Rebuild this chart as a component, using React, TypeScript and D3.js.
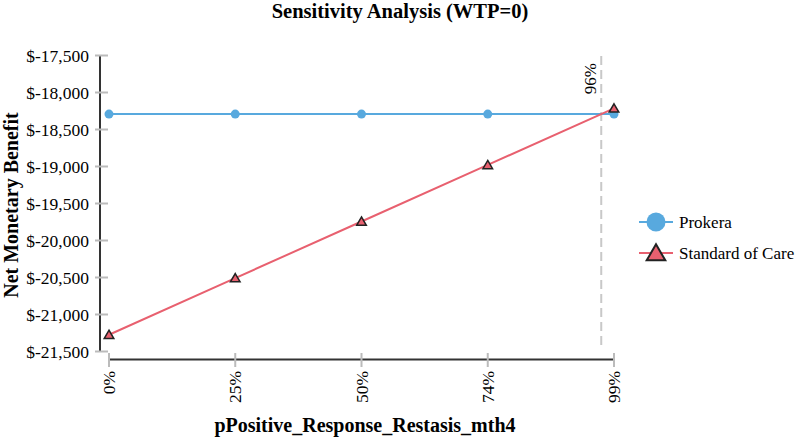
import * as d3 from "d3";

// percent axis values (labels are rounded in the source)
const xValues = [0, 0.2475, 0.495, 0.7425, 0.99];
const xTickLabels = ["0%", "25%", "50%", "74%", "99%"];
const prokera = [-18292, -18292, -18292, -18292, -18292];
const standardOfCare = [-21274, -20508, -19743, -18979, -18214];
const yTicks = [-17500, -18000, -18500, -19000, -19500, -20000, -20500, -21000, -21500];
const threshold = 0.965;
const thresholdLabel = "96%";
const seriesNames = ["Prokera", "Standard of Care"];

const width = 797;
const height = 438;
const font = "Liberation Serif, Times New Roman, Times, DejaVu Serif, serif";
const blue = "#58a9de";
const red = "#e8606f";

const locale = d3.formatLocale({ decimal: ".", thousands: ",", grouping: [3], currency: ["$", ""], minus: "-" });
const fmt = locale.format(",");

export default function App() {
    const x = d3.scaleLinear().domain([0, 0.99]).range([109, 614]);
    const y = d3.scaleLinear().domain([-21500, -17500]).range([351.5, 55.5]);

    const line = d3.line<number>()
        .x((_, i) => x(xValues[i]))
        .y(d => y(d));

    const tri = d3.symbol(d3.symbolTriangle, 40);
    const triBig = d3.symbol(d3.symbolTriangle, 150);

    return (
        <svg width={width} height={height} style={{ position: "absolute", left: 0, top: 0, background: "#fff", fontFamily: font }}>
            {/* title */}
            <text x={400} y={18} textAnchor="middle" fontWeight="bold" fontSize={20.5}>Sensitivity Analysis (WTP=0)</text>

            {/* y axis */}
            <line x1={100} x2={100} y1={55.5} y2={351.5} stroke="#333" strokeWidth={2} />
            {yTicks.map(t => (
                <g key={t}>
                    <line x1={95} x2={108} y1={y(t)} y2={y(t)} stroke="#bbb" strokeWidth={2} />
                    <text x={89} y={y(t)} dy="0.35em" textAnchor="end" fontSize={17.5}>{"$" + fmt(t)}</text>
                </g>
            ))}
            <text transform={`translate(18,205) rotate(-90)`} textAnchor="middle" fontWeight="bold" fontSize={20}>Net Monetary Benefit</text>

            {/* x axis */}
            <line x1={109} x2={614} y1={359.5} y2={359.5} stroke="#333" strokeWidth={2} />
            {xValues.map((v, i) => (
                <g key={v}>
                    <line x1={x(v)} x2={x(v)} y1={353} y2={367} stroke="#bbb" strokeWidth={2} />
                    <text transform={`translate(${x(v) + 6},371) rotate(-90)`} textAnchor="end" fontSize={17.5}>{xTickLabels[i]}</text>
                </g>
            ))}
            <text x={365} y={432} textAnchor="middle" fontWeight="bold" fontSize={20}>pPositive_Response_Restasis_mth4</text>

            {/* threshold */}
            <line x1={x(threshold)} x2={x(threshold)} y1={56} y2={348} stroke="#c8c8c8" strokeWidth={2} strokeDasharray="9,5" />
            <text transform={`translate(${x(threshold) - 5},63) rotate(-90)`} textAnchor="end" fontSize={17}>{thresholdLabel}</text>

            {/* series */}
            <path d={line(prokera) ?? ""} fill="none" stroke={blue} strokeWidth={2} />
            <path d={line(standardOfCare) ?? ""} fill="none" stroke={red} strokeWidth={2} />
            {prokera.map((v, i) => (
                <circle key={"p" + i} cx={x(xValues[i])} cy={y(v)} r={4.5} fill={blue} />
            ))}
            {standardOfCare.map((v, i) => (
                <path key={"s" + i} d={tri() ?? ""} transform={`translate(${x(xValues[i])},${y(v) + 1})`} fill={red} stroke="#222" strokeWidth={1.5} />
            ))}

            {/* legend */}
            <g transform="translate(639,222)">
                <line x1={0} x2={34} y1={0} y2={0} stroke={blue} strokeWidth={2} />
                <circle cx={17} cy={0} r={9.5} fill={blue} />
                <text x={40} y={0} dy="0.35em" fontSize={17}>{seriesNames[0]}</text>
            </g>
            <g transform="translate(639,253)">
                <line x1={0} x2={34} y1={0} y2={0} stroke={red} strokeWidth={2} />
                <path d={triBig() ?? ""} transform="translate(17,2)" fill={red} stroke="#222" strokeWidth={2} />
                <text x={40} y={0} dy="0.35em" fontSize={17}>{seriesNames[1]}</text>
            </g>
        </svg>
    );
}
